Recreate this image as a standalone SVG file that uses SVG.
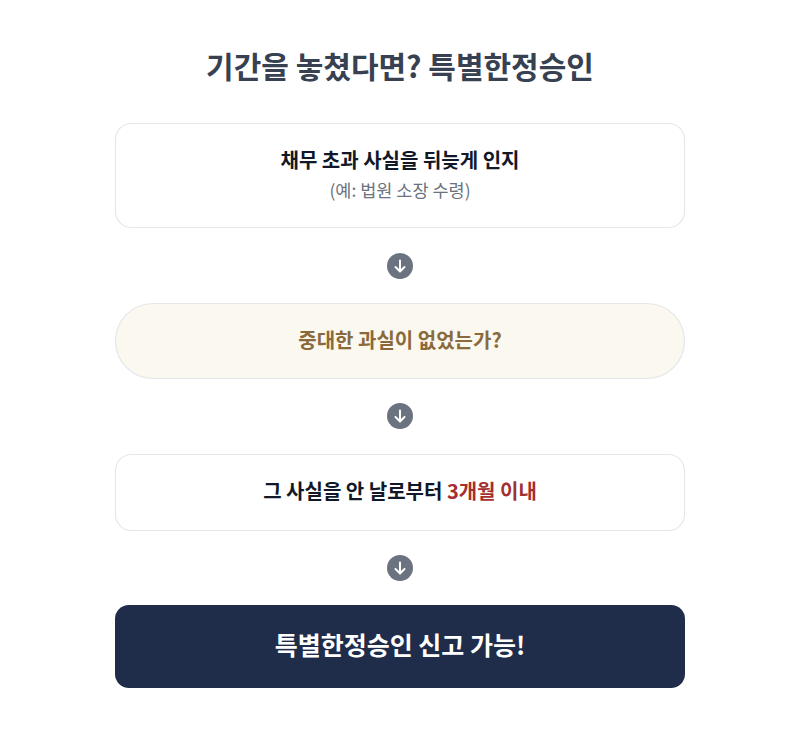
<svg xmlns="http://www.w3.org/2000/svg" width="800" height="731" viewBox="0 0 800 731">
<defs>
<style>
.t{font-family:"Noto Sans CJK KR","Noto Sans",sans-serif;text-anchor:middle;}
.box{fill:#ffffff;stroke:#e5e7eb;stroke-width:1.2;}
.dot{fill:#6b7280;}
.arr{fill:none;stroke:#ffffff;stroke-width:2;stroke-linecap:round;stroke-linejoin:round;}
</style>
<g id="arrowIcon">
<circle class="dot" cx="0" cy="0" r="13"/>
<path class="arr" d="M0,-5.5 V5 M-4.5,1 L0,5.5 L4.5,1"/>
</g>
</defs>
<rect width="800" height="731" fill="#ffffff"/>
<text id="title" class="t" x="400" y="78" font-size="30" font-weight="700" fill="#374151">기간을 놓쳤다면? 특별한정승인</text>
<g id="connectors">
<use href="#arrowIcon" x="400" y="266"/>
<use href="#arrowIcon" x="400" y="416"/>
<use href="#arrowIcon" x="400" y="568"/>
</g>
<g id="node1">
<rect class="box" x="115.5" y="123.5" width="569" height="104" rx="16"/>
<text class="t" x="400" y="168" font-size="20" font-weight="700" fill="#111827">채무 초과 사실을 뒤늦게 인지</text>
<text class="t" x="400" y="197" font-size="17.5" fill="#6b7280">(예: 법원 소장 수령)</text>
</g>
<g id="node2">
<rect x="115.5" y="303.5" width="569" height="75" rx="37.5" fill="#fbf8ef" stroke="#e5e7eb" stroke-width="1.2"/>
<text class="t" x="400" y="348" font-size="20" font-weight="700" fill="#8a6a3c">중대한 과실이 없었는가?</text>
</g>
<g id="node3">
<rect class="box" x="115.5" y="454.5" width="569" height="76" rx="16"/>
<text class="t" x="400" y="499" font-size="20" font-weight="700" fill="#111827">그 사실을 안 날로부터 <tspan fill="#a32f2f">3개월 이내</tspan></text>
</g>
<g id="node4">
<rect x="115" y="605" width="570" height="83" rx="14" fill="#1f2d4a"/>
<text class="t" x="400" y="655" font-size="25" font-weight="700" fill="#ffffff">특별한정승인 신고 가능!</text>
</g>
</svg>
